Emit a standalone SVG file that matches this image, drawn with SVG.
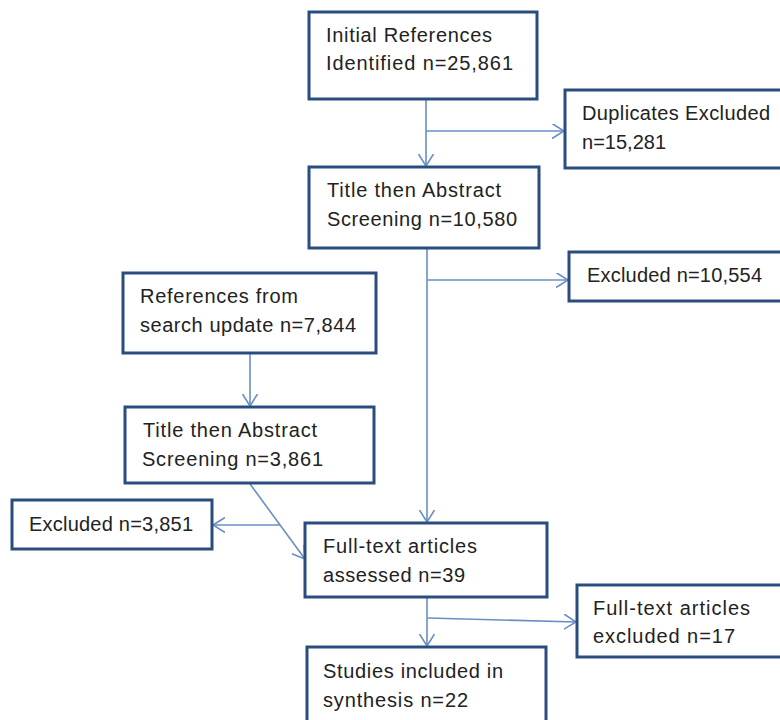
<svg xmlns="http://www.w3.org/2000/svg" width="780" height="720" viewBox="0 0 780 720">
<defs>
<style>
.box{fill:#fff;stroke:#2B4C7E;stroke-width:3}
.t{font-family:"Liberation Sans",Arial,sans-serif;font-size:20px;fill:#222}
.c{fill:none;stroke:#6A8EC4;stroke-width:1.6}
</style>
<marker id="ah" markerUnits="userSpaceOnUse" markerWidth="14" markerHeight="17" refX="12" refY="7.5" orient="auto">
<path d="M0,0 L12,7.5 L0,15" fill="none" stroke="#6A8EC4" stroke-width="1.6"/>
</marker>
</defs>
<rect width="780" height="720" fill="#fff"/>
<g id="connectors">
<line class="c" x1="426" y1="99" x2="426" y2="166" marker-end="url(#ah)"/>
<line class="c" x1="426" y1="131" x2="564" y2="131" marker-end="url(#ah)"/>
<line class="c" x1="427" y1="248" x2="427" y2="522" marker-end="url(#ah)"/>
<line class="c" x1="427" y1="280" x2="568" y2="280" marker-end="url(#ah)"/>
<line class="c" x1="250" y1="353" x2="250" y2="406" marker-end="url(#ah)"/>
<line class="c" x1="250" y1="484" x2="305" y2="559" marker-end="url(#ah)"/>
<line class="c" x1="280" y1="525" x2="213" y2="525" marker-end="url(#ah)"/>
<line class="c" x1="427" y1="597" x2="427" y2="646" marker-end="url(#ah)"/>
<line class="c" x1="428" y1="618" x2="576" y2="622" marker-end="url(#ah)"/>
</g>
<g id="initial">
<rect class="box" x="309" y="12" width="228" height="87"/>
<text class="t" x="326" y="42" textLength="166" lengthAdjust="spacing">Initial References</text>
<text class="t" x="326" y="70" textLength="187" lengthAdjust="spacing">Identified  n=25,861</text>
</g>
<g id="duplicates">
<rect class="box" x="565" y="90" width="230" height="78"/>
<text class="t" x="582" y="120" textLength="188" lengthAdjust="spacing">Duplicates Excluded</text>
<text class="t" x="582" y="149" textLength="84" lengthAdjust="spacing">n=15,281</text>
</g>
<g id="screening1">
<rect class="box" x="309" y="167" width="230" height="81"/>
<text class="t" x="327" y="197" textLength="174" lengthAdjust="spacing">Title then Abstract</text>
<text class="t" x="327" y="226" textLength="190" lengthAdjust="spacing">Screening  n=10,580</text>
</g>
<g id="excluded1">
<rect class="box" x="569" y="252" width="230" height="49"/>
<text class="t" x="587" y="282" textLength="175" lengthAdjust="spacing">Excluded n=10,554</text>
</g>
<g id="update">
<rect class="box" x="123" y="273" width="253" height="80"/>
<text class="t" x="140" y="303" textLength="158" lengthAdjust="spacing">References from</text>
<text class="t" x="140" y="332" textLength="216" lengthAdjust="spacing">search update  n=7,844</text>
</g>
<g id="screening2">
<rect class="box" x="125" y="407" width="249" height="76"/>
<text class="t" x="143" y="437" textLength="174" lengthAdjust="spacing">Title then Abstract</text>
<text class="t" x="142" y="466" textLength="181" lengthAdjust="spacing">Screening  n=3,861</text>
</g>
<g id="excluded2">
<rect class="box" x="12" y="500" width="200" height="49"/>
<text class="t" x="29" y="531" textLength="164" lengthAdjust="spacing">Excluded n=3,851</text>
</g>
<g id="fulltext">
<rect class="box" x="305" y="523" width="242" height="74"/>
<text class="t" x="323" y="553" textLength="154" lengthAdjust="spacing">Full-text articles</text>
<text class="t" x="323" y="582" textLength="142" lengthAdjust="spacing">assessed  n=39</text>
</g>
<g id="fulltext-excluded">
<rect class="box" x="577" y="585" width="230" height="72"/>
<text class="t" x="593" y="615" textLength="157" lengthAdjust="spacing">Full-text articles</text>
<text class="t" x="593" y="643" textLength="142" lengthAdjust="spacing">excluded  n=17</text>
</g>
<g id="studies">
<rect class="box" x="307" y="647" width="239" height="90"/>
<text class="t" x="323" y="678" textLength="180" lengthAdjust="spacing">Studies included in</text>
<text class="t" x="323" y="707" textLength="145" lengthAdjust="spacing">synthesis n=22</text>
</g>
</svg>
